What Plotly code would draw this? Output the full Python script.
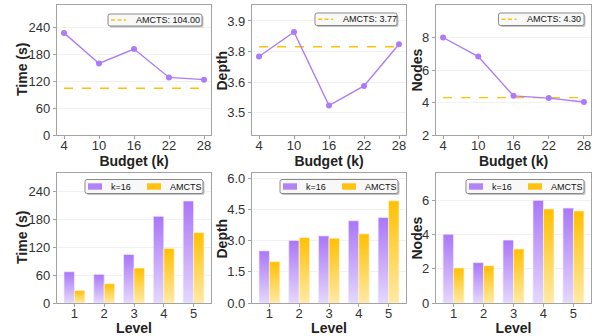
import plotly.graph_objects as go

# ---------------- data ----------------
budget = [4, 10, 16, 22, 28]
time_k = [227, 159, 191, 128, 123]
depth_k = [3.73, 3.83, 3.53, 3.61, 3.78]
nodes_k = [8.0, 6.83, 4.41, 4.27, 4.03]
amcts_time = 104.00
amcts_depth = 3.77
amcts_nodes = 4.30

levels = [1, 2, 3, 4, 5]
time_k16 = [67, 61.5, 104, 186, 219]
time_amcts = [27, 41.5, 75, 117, 151]
depth_k16 = [2.51, 3.01, 3.23, 3.96, 4.12]
depth_amcts = [1.99, 3.15, 3.12, 3.33, 4.92]
nodes_k16 = [4.02, 2.36, 3.68, 6.0, 5.55]
nodes_amcts = [2.05, 2.18, 3.16, 5.5, 5.38]

series_names = ["k=16", "AMCTS"]
depth_tickvals = [3.5, 3.625, 3.75, 3.875]
depth_ticktext = ["3.5", "3.6", "3.8", "3.9"]

# ---------------- style ----------------
W, H = 598, 336
PURPLE = "#ad7bf7"
PURPLE_TOP = "#aa76f8"
PURPLE_BOT = "#e4d8fd"
GOLD = "#ffc107"
GOLD_TOP = "#ffc000"
GOLD_BOT = "#ffeaa6"
FONT = "Liberation Sans"
FRAME = "#a3a3a3"

def X(px):
    return px / W

def Y(py):
    return (H - py) / H

col_px = [(57, 211), (252, 406), (436, 591)]
row_px = [(5, 135), (173, 303)]
ytitle_x = [22, 221.5, 416.5]

fig = go.Figure()
shapes = []
annotations = []

def axis_common():
    return dict(
        showline=True, mirror=True, linecolor=FRAME, linewidth=1.3,
        ticks="outside", ticklen=3, tickwidth=1, tickcolor=FRAME,
        tickfont=dict(family=FONT, size=13, color="#333333"),
        zeroline=False, automargin=False,
    )

def title_font():
    return dict(family=FONT, size=14, color="#222222", weight="bold")

layout_axes = {}
specs = [
    ("Budget (k)", "Time (s)", [2.8, 29.2], [0, 289], dict(tickvals=[0, 60, 120, 180, 240])),
    ("Budget (k)", "Depth", [2.8, 29.2], [3.41, 3.94], dict(tickvals=depth_tickvals, ticktext=depth_ticktext)),
    ("Budget (k)", "Nodes", [2.8, 29.2], [2, 10], dict(tickvals=[2, 4, 6, 8])),
    ("Level", "Time (s)", [0.415, 5.585], [0, 279], dict(tickvals=[0, 60, 120, 180, 240])),
    ("Level", "Depth", [0.415, 5.585], [0, 6.26], dict(tickvals=[0, 1.5, 3, 4.5, 6], ticktext=["0.0", "1.5", "3.0", "4.5", "6.0"])),
    ("Level", "Nodes", [0.415, 5.585], [0, 7.6], dict(tickvals=[0, 2, 4, 6])),
]
for i, (xl, yl, xr, yr, yt) in enumerate(specs):
    n = i + 1
    r, c = divmod(i, 3)
    xa = axis_common()
    xa.update(domain=[X(col_px[c][0]), X(col_px[c][1])], anchor=f"y{n}", range=xr,
              showgrid=False, ticklabelstandoff=-5,
              title=dict(text=xl, font=title_font(), standoff=1),
              tickvals=budget if r == 0 else levels)
    ya = axis_common()
    ya.update(domain=[Y(row_px[r][1]), Y(row_px[r][0])], anchor=f"x{n}", range=yr,
              showgrid=True, gridcolor="#f1f1f1", gridwidth=0.8, **yt)
    layout_axes["xaxis" + ("" if n == 1 else str(n))] = xa
    layout_axes["yaxis" + ("" if n == 1 else str(n))] = ya
    # y-axis title placed as rotated text
    annotations.append(dict(
        text=yl, textangle=-90, font=title_font(), showarrow=False,
        xref="paper", yref="paper", x=X(ytitle_x[c]),
        y=Y((row_px[r][0] + row_px[r][1]) / 2), xanchor="center", yanchor="middle",
    ))

# ---------------- legend box helpers ----------------
def rounded_rect(x0, y0, x1, y1, rad=2.0):
    def p(a, b):
        return f"{X(a):.5f},{Y(b):.5f}"
    return (f"M {p(x0 + rad, y0)} L {p(x1 - rad, y0)} Q {p(x1, y0)} {p(x1, y0 + rad)} "
            f"L {p(x1, y1 - rad)} Q {p(x1, y1)} {p(x1 - rad, y1)} "
            f"L {p(x0 + rad, y1)} Q {p(x0, y1)} {p(x0, y1 - rad)} "
            f"L {p(x0, y0 + rad)} Q {p(x0, y0)} {p(x0 + rad, y0)} Z")

def legend_box(x0, y0, x1, y1):
    shapes.append(dict(type="path", xref="paper", yref="paper",
                       path=rounded_rect(x0 + 1.5, y0 + 1.5, x1 + 1.5, y1 + 1.5),
                       fillcolor="rgba(120,120,120,0.45)", line=dict(width=0), layer="above"))
    shapes.append(dict(type="path", xref="paper", yref="paper",
                       path=rounded_rect(x0, y0, x1, y1),
                       fillcolor="#f8f8f8", line=dict(color="#8a8a8a", width=1), layer="above"))

def legend_text(txt, x, y):
    annotations.append(dict(text=txt, showarrow=False, xref="paper", yref="paper",
                            x=X(x), y=Y(y), xanchor="left", yanchor="middle",
                            font=dict(family=FONT, size=9, color="#111111")))

# ---------------- top row: lines ----------------
top_series = [(time_k, amcts_time), (depth_k, amcts_depth), (nodes_k, amcts_nodes)]
top_leg = [(108, 14, 202, 26), (315, 13, 397, 25.5), (498.5, 13, 584, 25.5)]
for i, (vals, am) in enumerate(top_series):
    n = i + 1
    xa = "x" if n == 1 else f"x{n}"
    ya = "y" if n == 1 else f"y{n}"
    label = f"AMCTS: {am:.2f}"
    fig.add_trace(go.Scatter(
        x=budget, y=[am] * len(budget), mode="lines",
        line=dict(color=GOLD, width=1.4, dash="dash"),
        name=label, xaxis=xa, yaxis=ya, showlegend=False,
    ))
    fig.add_trace(go.Scatter(
        x=budget, y=vals, mode="lines+markers",
        line=dict(color=PURPLE, width=1.4),
        marker=dict(color=PURPLE, size=6),
        name="k", xaxis=xa, yaxis=ya, showlegend=False,
    ))
    x0, y0, x1, y1 = top_leg[i]
    legend_box(x0, y0, x1, y1)
    yc = (y0 + y1) / 2
    shapes.append(dict(type="line", xref="paper", yref="paper",
                       x0=X(x0 + 3), x1=X(x0 + 18), y0=Y(yc), y1=Y(yc),
                       line=dict(color=GOLD, width=1.4, dash="4px,2.5px"), layer="above"))
    legend_text(label, x0 + 26, yc)

# ---------------- bottom row: gradient bars ----------------
BW = 0.35
bot_series = [(time_k16, time_amcts), (depth_k16, depth_amcts), (nodes_k16, nodes_amcts)]
bot_leg_left = [85, 280, 466]

def add_bar_series(vals, offset, name, top_c, bot_c, edge, xa, ya):
    for lv, v in zip(levels, vals):
        x0 = lv + offset
        x1 = x0 + BW
        fig.add_trace(go.Scatter(
            x=[x0, x0, x1, x1, x0], y=[0, v, v, 0, 0],
            mode="lines", fill="toself",
            line=dict(color=edge, width=0.8),
            fillgradient=dict(type="vertical",
                              colorscale=[[0, bot_c], [1, top_c]],
                              start=0, stop=v),
            name=name, showlegend=False,
            xaxis=xa, yaxis=ya, hoverinfo="skip",
        ))

for i, (k16, am) in enumerate(bot_series):
    n = i + 4
    xa, ya = f"x{n}", f"y{n}"
    add_bar_series(k16, -BW, series_names[0], PURPLE_TOP, PURPLE_BOT, "rgba(240,232,255,0.9)", xa, ya)
    add_bar_series(am, 0, series_names[1], GOLD_TOP, GOLD_BOT, "rgba(255,244,210,0.9)", xa, ya)
    L = bot_leg_left[i]
    y0, y1 = 179.5, 193.5
    legend_box(L, y0, L + 118, y1)
    yc = (y0 + y1) / 2
    for k, (sx, tx, col) in enumerate([(3, 24, "#b083fa"), (62, 83, "#ffc20e")]):
        shapes.append(dict(type="rect", xref="paper", yref="paper",
                           x0=X(L + sx), x1=X(L + sx + 14), y0=Y(yc + 3.2), y1=Y(yc - 3.2),
                           fillcolor=col, line=dict(width=0), layer="above"))
        legend_text(series_names[k], L + tx, yc)

fig.update_layout(
    width=W, height=H,
    margin=dict(l=0, r=0, t=0, b=0),
    paper_bgcolor="white", plot_bgcolor="white",
    font=dict(family=FONT),
    showlegend=False,
    shapes=shapes, annotations=annotations,
    **layout_axes,
)

fig.write_html("out.html", config={"displayModeBar": False},
               post_script="document.body.style.margin='0';")
